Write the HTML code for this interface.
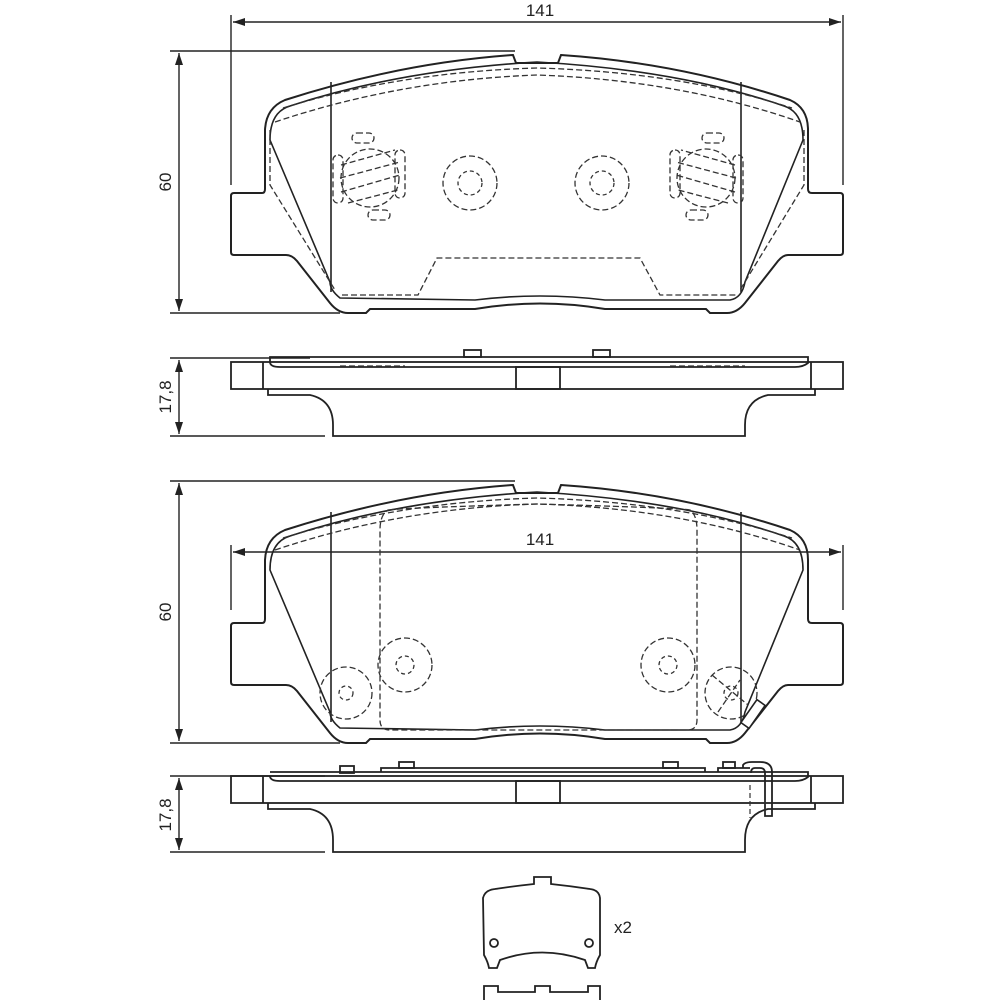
<!DOCTYPE html>
<html><head><meta charset="utf-8"><style>
html,body{margin:0;padding:0;background:#fff;}
svg{display:block}
text{font-family:"Liberation Sans",sans-serif;fill:#222}
</style></head><body>
<svg width="1000" height="1000" viewBox="0 0 1000 1000" xmlns="http://www.w3.org/2000/svg">
<defs>
<marker id="ar" markerWidth="12" markerHeight="8" refX="12" refY="4" orient="auto-start-reverse" markerUnits="userSpaceOnUse">
<path d="M0,0 L12,4 L0,8 Z" fill="#222"/>
</marker>
<g id="pad">
 <path d="M231,196 Q231,193 234,193 L262,193 Q265,193 265,189 L265,130 Q266,108 285,100 Q400,63 513,55 L516,63 L558,63 L561,55 Q680,63 790,100 Q808,108 808,130 L808,189 Q808,193 812,193 L840,193 Q843,193 843,196 L843,252 Q843,255 840,255 L788,255 Q783,255 778,261 L745,303 Q737,313 727,313 L710,313 L706,309 L605,309 Q540,298 475,309 L370,309 L366,313 L348,313 Q338,313 330,303 L297,261 Q292,255 286,255 L234,255 Q231,255 231,252 Z" fill="none" stroke="#222" stroke-width="2"/>
 <path d="M340,298 Q330,290 330,282 L270,140 Q270,112 290,106 Q400,70 537,62 Q680,70 784,106 Q803,112 803,140 L745,282 Q742,298 730,300 L605,300 Q540,292 475,300 Z" fill="none" stroke="#222" stroke-width="1.6"/>
 <line x1="331" y1="82" x2="331" y2="292" stroke="#222" stroke-width="1.6"/>
 <line x1="741" y1="82" x2="741" y2="292" stroke="#222" stroke-width="1.6"/>
</g>
</defs>

<g stroke="#222" fill="none" stroke-width="1.4">
<line x1="231" y1="15" x2="231" y2="185"/>
<line x1="843" y1="15" x2="843" y2="185"/>
<line x1="233" y1="22" x2="841" y2="22" marker-start="url(#ar)" marker-end="url(#ar)"/>
<line x1="170" y1="51" x2="515" y2="51"/>
<line x1="170" y1="313" x2="340" y2="313"/>
<line x1="179" y1="53" x2="179" y2="311" marker-start="url(#ar)" marker-end="url(#ar)"/>
<line x1="170" y1="358" x2="310" y2="358"/>
<line x1="170" y1="436" x2="325" y2="436"/>
<line x1="179" y1="360" x2="179" y2="434" marker-start="url(#ar)" marker-end="url(#ar)"/>
<line x1="170" y1="481" x2="515" y2="481"/>
<line x1="170" y1="743" x2="340" y2="743"/>
<line x1="179" y1="483" x2="179" y2="741" marker-start="url(#ar)" marker-end="url(#ar)"/>
<line x1="231" y1="545" x2="231" y2="610"/>
<line x1="843" y1="545" x2="843" y2="610"/>
<line x1="233" y1="552" x2="841" y2="552" marker-start="url(#ar)" marker-end="url(#ar)"/>
<line x1="170" y1="776" x2="325" y2="776"/>
<line x1="170" y1="852" x2="325" y2="852"/>
<line x1="179" y1="778" x2="179" y2="850" marker-start="url(#ar)" marker-end="url(#ar)"/>
</g>
<text x="540" y="16" font-size="17" text-anchor="middle">141</text>
<text x="540" y="545" font-size="17" text-anchor="middle">141</text>
<text transform="translate(171,182) rotate(-90)" font-size="17" text-anchor="middle">60</text>
<text transform="translate(171,612) rotate(-90)" font-size="17" text-anchor="middle">60</text>
<text transform="translate(171,397) rotate(-90)" font-size="17" text-anchor="middle">17,8</text>
<text transform="translate(171,815) rotate(-90)" font-size="17" text-anchor="middle">17,8</text>
<text x="614" y="933" font-size="17">x2</text>

<use href="#pad"/>
<g fill="none" stroke="#333" stroke-width="1.3" stroke-dasharray="6,3">
 <path d="M283,108 Q400,72 537,68 Q680,72 792,108"/>
 <path d="M275,122 Q400,80 537,75 Q680,80 800,122"/>
 <path d="M270,130 L270,185 L335,290"/>
 <path d="M804,130 L804,185 L740,290"/>
 <path d="M342,295 L418,295 L437,258 L640,258 L660,295 L737,295"/>
 <circle cx="470" cy="183" r="27"/><circle cx="470" cy="183" r="12" stroke-dasharray="4,3"/>
 <circle cx="602" cy="183" r="27"/><circle cx="602" cy="183" r="12" stroke-dasharray="4,3"/>
 <circle cx="370" cy="178" r="29"/>
 <circle cx="706" cy="178" r="29"/>
 <path d="M341,165 L395,150 M340,178 L400,162 M341,192 L400,175 M348,203 L398,190"/>
 <path d="M735,165 L681,150 M736,178 L676,162 M735,192 L676,175 M728,203 L678,190"/>
 <rect x="352" y="133" width="22" height="10" rx="5"/>
 <rect x="368" y="210" width="22" height="10" rx="5"/>
 <rect x="702" y="133" width="22" height="10" rx="5"/>
 <rect x="686" y="210" width="22" height="10" rx="5"/>
 <rect x="333" y="155" width="10" height="48" rx="5"/>
 <rect x="395" y="150" width="10" height="48" rx="5"/>
 <rect x="733" y="155" width="10" height="48" rx="5"/>
 <rect x="670" y="150" width="10" height="48" rx="5"/>
</g>

<g fill="none" stroke="#222" stroke-width="1.8">
 <rect x="231" y="362" width="612" height="27"/>
 <line x1="263" y1="362" x2="263" y2="389"/>
 <line x1="811" y1="362" x2="811" y2="389"/>
 <rect x="516" y="367" width="44" height="22"/>
 <path d="M270,357 L808,357 L808,363 Q803,367 795,367 L280,367 Q270,367 270,362 Z"/>
 <rect x="464" y="350" width="17" height="7"/>
 <rect x="593" y="350" width="17" height="7"/>
 <path d="M268,389 L268,395 L310,395 Q333,400 333,425 L333,436 L745,436 L745,425 Q745,400 768,395 L815,395 L815,389"/>
</g>
<path d="M340,366 L405,366 M670,366 L745,366" stroke="#333" stroke-width="1.3" stroke-dasharray="6,3"/>

<use href="#pad" transform="translate(0,430)"/>
<g fill="none" stroke="#333" stroke-width="1.3" stroke-dasharray="6,3">
 <path d="M283,538 Q400,502 537,498 Q680,502 792,538"/>
 <path d="M275,550 Q400,508 537,504 Q680,508 800,550"/>
 <path d="M388,510 Q400,508 537,504 Q680,508 690,510 Q697,515 697,530 L697,720 Q697,730 687,730 L390,730 Q380,730 380,720 L380,530 Q380,515 388,510 Z"/>
 <circle cx="405" cy="665" r="27"/><circle cx="405" cy="665" r="9" stroke-dasharray="4,3"/>
 <circle cx="668" cy="665" r="27"/><circle cx="668" cy="665" r="9" stroke-dasharray="4,3"/>
 <circle cx="346" cy="693" r="26"/><circle cx="346" cy="693" r="7" stroke-dasharray="4,3"/>
 <circle cx="731" cy="693" r="26"/><circle cx="731" cy="693" r="7" stroke-dasharray="4,3"/>
 <path d="M712,675 L748,705 M718,712 L740,680"/>
</g>
<rect x="748" y="700" width="10" height="28" transform="rotate(35 753 714)" fill="#fff" stroke="#222" stroke-width="1.6"/>

<g fill="none" stroke="#222" stroke-width="1.8">
 <rect x="231" y="776" width="612" height="27"/>
 <line x1="263" y1="776" x2="263" y2="803"/>
 <line x1="811" y1="776" x2="811" y2="803"/>
 <rect x="516" y="781" width="44" height="22"/>
 <path d="M270,772 L808,772 L808,777 Q803,781 795,781 L280,781 Q270,781 270,776"/>
 <rect x="340" y="766" width="14" height="7"/>
 <path d="M381,772 L381,768 L705,768 L705,772"/>
 <rect x="399" y="762" width="15" height="6"/>
 <rect x="663" y="762" width="15" height="6"/>
 <path d="M718,772 L718,768 L750,768"/>
 <rect x="723" y="762" width="12" height="6"/>
 <path d="M743,768 L743,765 Q745,762 752,762 L760,762 Q772,762 772,772 L772,816 L765,816 L765,773 Q765,768 760,768 L755,768 Q751,768 751,773"/>
 <path d="M268,803 L268,809 L310,809 Q333,814 333,840 L333,852 L745,852 L745,840 Q745,814 768,809 L815,809 L815,803"/>
</g>
<path d="M750,785 L750,818 M765,800 L765,815" stroke="#333" stroke-width="1.2" stroke-dasharray="5,3"/>

<g fill="none" stroke="#222" stroke-width="1.8">
 <path d="M483,898 Q485,890 495,889 Q515,886 534,884 L534,877 L551,877 L551,884 Q570,886 590,889 Q599,890 600,898 L600,955 Q596,962 595,968 L588,968 L585,960 Q542,945 500,960 L497,968 L489,968 Q488,962 484,955 Z"/>
 <circle cx="494" cy="943" r="4"/>
 <circle cx="589" cy="943" r="4"/>
 <path d="M484,1000 L484,986 L498,986 L498,992 L535,992 L535,986 L550,986 L550,992 L588,992 L588,986 L600,986 L600,1000"/>
</g>
</svg>
</body></html>
